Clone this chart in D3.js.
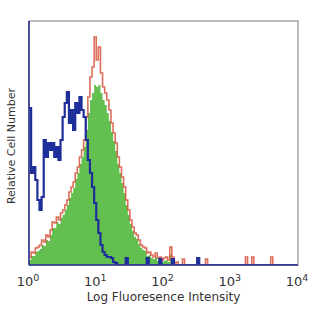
<!DOCTYPE html>
<html><head><meta charset="utf-8">
<script src="https://cdn.jsdelivr.net/npm/d3@7"></script>
<style>body{margin:0;background:#fff}svg{display:block}</style>
</head><body>
<script>
// 128 log-spaced channels covering 10^0 .. 10^4
const nBins = 128;
const decades = ["0","1","2","3","4"];
const xTitle = "Log Fluoresence Intensity";
const yTitle = "Relative Cell Number";

const isotypeBlue = [157,92,98,85,65,55,68,125,108,122,115,122,108,118,105,125,148,162,173,142,155,135,162,152,168,155,148,125,105,92,78,62,45,32,20,13,10,8,8,7,3,2,0,0,0,0,7,0,0,0,0,0,0,0,0,0,7,0,0,0,0,0,6,0,0,0,0,0,6,0,0,0,0,0,0,0,0,0,0,0,7,0,0,0,0,0,0,0,0,0,0,0,0,0,0,0,0,0,0,0,0,0,0,0,0,0,0,0,0,0,0,0,0,0,0,0,0,0,0,0,0,0,0,0,0,0,0,0];
const stainedRed = [8,13,12,17,18,20,25,23,30,28,35,43,42,48,45,52,55,60,65,73,78,83,92,98,108,115,125,148,168,188,198,228,205,218,192,178,172,165,155,142,132,122,108,98,88,78,65,55,45,38,32,30,25,20,18,17,12,13,10,8,12,7,8,5,7,8,5,18,8,2,3,0,0,6,0,0,0,0,0,0,0,0,0,0,6,0,0,0,0,0,0,0,0,0,0,0,0,0,0,0,0,0,0,8,0,0,8,0,0,0,0,0,0,0,0,8,0,0,0,0,0,0,0,0,0,0,0,0];
const stainedGreen = [5,9,9,13,14,16,20,19,25,24,30,37,37,43,41,47,50,55,60,67,72,77,86,92,101,108,118,135,152,165,172,180,178,180,172,165,160,152,144,133,124,114,101,92,82,72,60,50,41,34,28,26,21,17,15,14,9,10,7,6,8,4,5,3,4,5,3,10,4,1,1,0,0,0,0,0,0,0,0,0,0,0,0,0,0,0,0,0,0,0,0,0,0,0,0,0,0,0,0,0,0,0,0,0,0,0,0,0,0,0,0,0,0,0,0,0,0,0,0,0,0,0,0,0,0,0,0,0];

const W = 312, H = 312;
const L = 29, R = 298, T = 21, B = 265;

const svg = d3.select("body").append("svg").attr("width", W).attr("height", H);

const x = d3.scaleLog().domain([1, 1e4]).range([L, R]);
const y = d3.scaleLinear().domain([0, 244]).range([B, T]);

// bin edges in data units
const edge = i => Math.pow(10, 4 * i / nBins);

function stepPoints(arr) {
  const pts = [];
  arr.forEach((v, i) => {
    pts.push([x(edge(i)), y(v)]);
    pts.push([x(edge(i + 1)), y(v)]);
  });
  return pts;
}

svg.append("defs").append("clipPath").attr("id", "clip")
  .append("rect").attr("x", L).attr("y", T).attr("width", R - L).attr("height", B - T);

const g = svg.append("g").attr("clip-path", "url(#clip)");

// green filled histogram
const gp = stepPoints(stainedGreen);
g.append("path")
  .attr("d", d3.area().x(d => d[0]).y0(y(0)).y1(d => d[1])(gp))
  .attr("fill", "#63bf4f");

// red outline
const rp = stepPoints(stainedRed);
g.append("path")
  .attr("d", d3.line()(rp))
  .attr("fill", "none").attr("stroke", "#d6543c").attr("stroke-width", 1.6).attr("stroke-opacity", 0.85);

// blue isotype
const bp = stepPoints(isotypeBlue);
g.append("path")
  .attr("d", d3.line()(bp))
  .attr("fill", "none").attr("stroke", "#1f2f9a").attr("stroke-width", 2.2);

// frame
svg.append("rect").attr("x", L).attr("y", T).attr("width", R - L).attr("height", B - T)
  .attr("fill", "none").attr("stroke", "#7a7a7a").attr("stroke-width", 1);
svg.append("line").attr("x1", L).attr("x2", R).attr("y1", B).attr("y2", B)
  .attr("stroke", "#2a3590").attr("stroke-width", 1.6);
svg.append("line").attr("x1", L).attr("x2", L).attr("y1", T).attr("y2", B)
  .attr("stroke", "#2a3590").attr("stroke-width", 1.6);

// tick labels
const font = "'DejaVu Sans', Verdana, sans-serif";
decades.forEach(d => {
  const t = svg.append("text")
    .attr("x", x(Math.pow(10, +d)) - 1).attr("y", 286)
    .attr("text-anchor", "middle")
    .attr("font-family", font).attr("font-size", 13).attr("fill", "#333");
  t.append("tspan").text("10");
  t.append("tspan").attr("dy", -5).attr("font-size", 9.5).text(d);
});

svg.append("text")
  .attr("x", (L + R) / 2).attr("y", 301)
  .attr("text-anchor", "middle")
  .attr("font-family", font).attr("font-size", 12).attr("fill", "#333")
  .text(xTitle);

svg.append("text")
  .attr("transform", `translate(15,${(T + B) / 2 + 3}) rotate(-90)`)
  .attr("text-anchor", "middle")
  .attr("font-family", font).attr("font-size", 11).attr("fill", "#333")
  .text(yTitle);
</script>
</body></html>
